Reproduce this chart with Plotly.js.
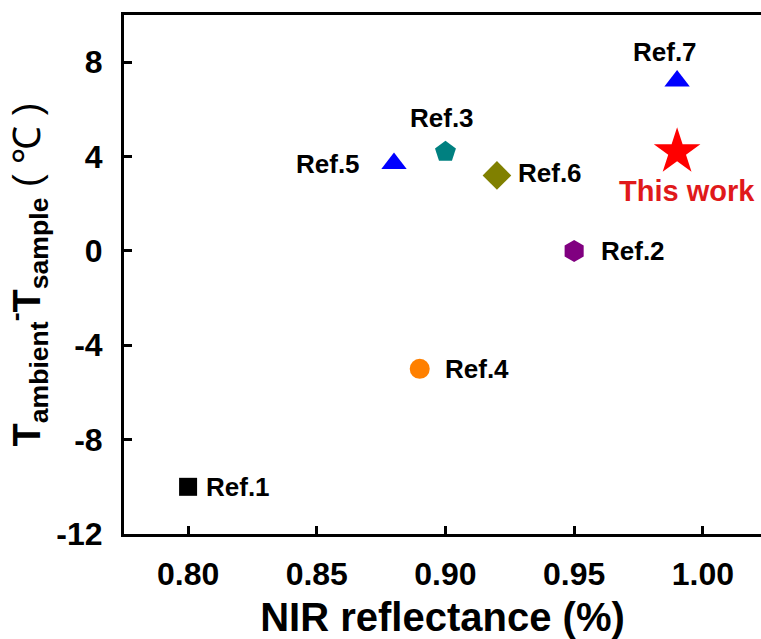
<!DOCTYPE html>
<html>
<head>
<meta charset="utf-8">
<script src="https://cdn.plot.ly/plotly-3.0.1.min.js"></script>
<style>html,body{margin:0;padding:0;background:#fff}#chart{width:761px;height:639px}</style>
</head>
<body>
<div id="chart"></div>
<script>
// Data
const labels = ["Ref.1", "Ref.2", "Ref.3", "Ref.4", "Ref.5", "Ref.6", "Ref.7", "This work"];
const nirReflectance = [0.80, 0.95, 0.90, 0.89, 0.88, 0.92, 0.99, 0.99];
const tempDrop = [-10, 0, 4.2, -5, 3.7, 3.2, 7.2, 4.2];
const symbols = ["square", "hexagon", "pentagon", "circle", "triangle-up", "diamond", "triangle-up", "star"];
const colors = ["#000000", "#800080", "#008080", "#FF8000", "#0000FF", "#808000", "#0000FF", "#FF0000"];
const sizes = [18, 22, 22, 20, 22, 22, 22, 35];
const xTicks = [0.80, 0.85, 0.90, 0.95, 1.00];
const xTickText = ["0.80", "0.85", "0.90", "0.95", "1.00"];
const yTicks = [-12, -8, -4, 0, 4, 8];
const yTickText = ["-12", "-8", "-4", "0", "4", "8"];

// label placement: [xanchor, xshift, yshift]
const labelPlacement = [
  ["left", 16, 0],
  ["left", 25, 0],
  ["center", -3, 34],
  ["left", 23, 0],
  ["right", -32, 0],
  ["left", 19, 2],
  ["center", -12, 29],
  ["center", 10, -39]
];

const FONT = '"Liberation Sans", Arial, sans-serif';

const trace = {
  type: "scatter",
  mode: "markers",
  x: nirReflectance,
  y: tempDrop,
  text: labels,
  marker: { symbol: symbols, color: colors, size: sizes, opacity: 1, line: { width: 0 } },
  showlegend: false,
  hoverinfo: "text+x+y"
};

const annotations = labels.map((t, i) => ({
  x: nirReflectance[i],
  y: tempDrop[i],
  xref: "x", yref: "y",
  text: t,
  showarrow: false,
  xanchor: labelPlacement[i][0],
  yanchor: "middle",
  xshift: labelPlacement[i][1],
  yshift: labelPlacement[i][2],
  font: {
    family: FONT,
    size: t === "This work" ? 29 : 26,
    color: t === "This work" ? "#E0191B" : "#000000",
    weight: "bold"
  }
}));

const layout = {
  width: 761,
  height: 639,
  margin: { l: 124, r: 0, t: 15, b: 105 },
  paper_bgcolor: "#ffffff",
  plot_bgcolor: "#ffffff",
  font: { family: FONT, color: "#000000", weight: "bold" },
  xaxis: {
    range: [0.7751, 1.0226],
    tickvals: xTicks,
    ticktext: xTickText,
    ticks: "inside",
    ticklen: 8,
    tickwidth: 3,
    tickcolor: "#000",
    showline: true,
    linewidth: 3,
    linecolor: "#000",
    mirror: true,
    showgrid: false,
    zeroline: false,
    ticklabelstandoff: 10,
    tickfont: { family: FONT, size: 32, color: "#000", weight: "bold" },
    title: {
      text: "NIR reflectance (%)",
      font: { family: FONT, size: 40, color: "#000", weight: "bold" },
      standoff: 34
    },
    automargin: false
  },
  yaxis: {
    range: [-12, 10],
    tickvals: yTicks,
    ticktext: yTickText,
    ticks: "inside",
    ticklen: 8,
    tickwidth: 3,
    tickcolor: "#000",
    showline: true,
    linewidth: 3,
    linecolor: "#000",
    mirror: false,
    showgrid: false,
    zeroline: false,
    ticklabelstandoff: 12,
    tickfont: { family: FONT, size: 32, color: "#000", weight: "bold" },
    title: {
      text: "T<sub>ambient</sub><sup>-</sup>T<sub>sample</sub> <span style=\"font-weight:normal\">( ℃ )</span>",
      font: { family: FONT, size: 38, color: "#000", weight: "bold" },
      standoff: 10
    },
    automargin: false
  },
  annotations: annotations
};

Plotly.newPlot("chart", [trace], layout, { displayModeBar: false, staticPlot: true });
</script>
</body>
</html>
